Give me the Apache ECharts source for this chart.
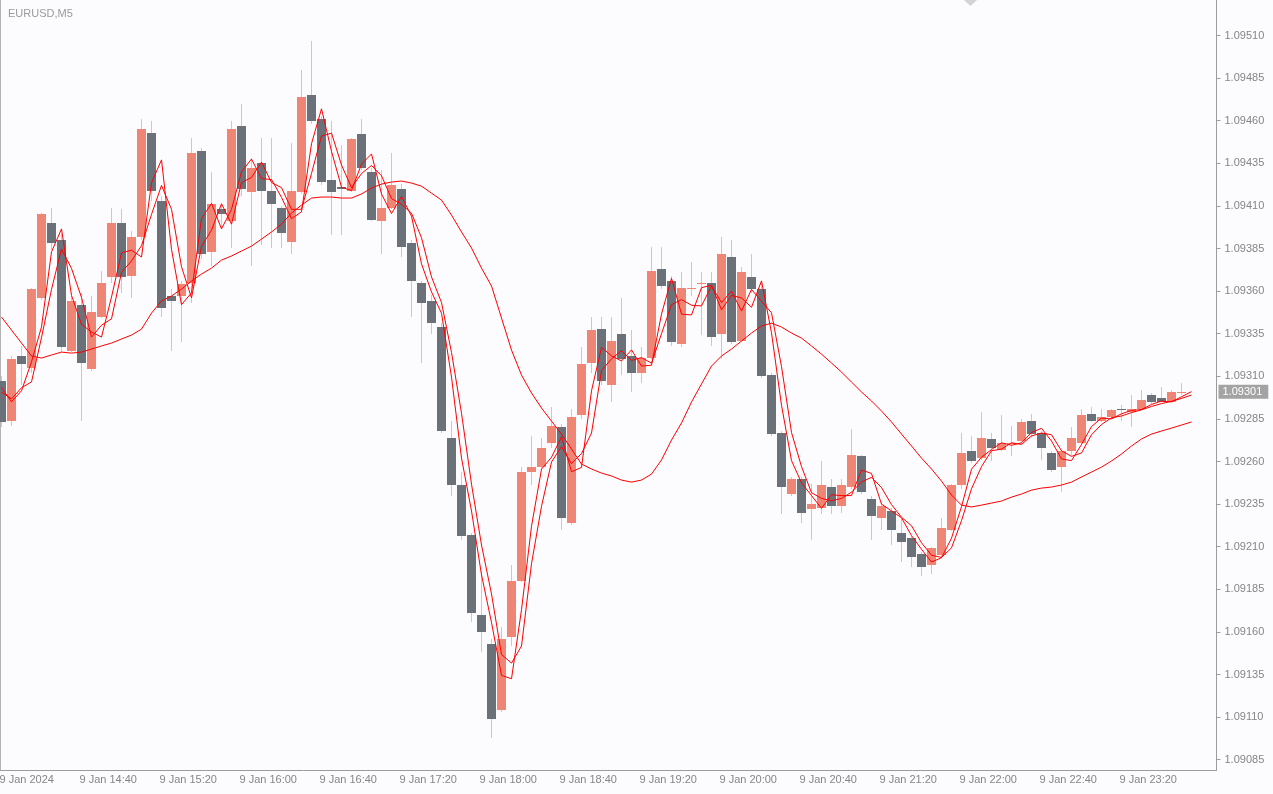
<!DOCTYPE html>
<html><head><meta charset="utf-8">
<script src="https://cdn.jsdelivr.net/npm/echarts@6/dist/echarts.min.js"></script>
<style>html,body{margin:0;padding:0;background:#fcfcfe;}#c{width:1273px;height:794px;}</style>
</head><body><div id="c"></div><script>
// ---- data (EURUSD M5, 9 Jan 2024, from 14:00) ----
const open = [1.09307,1.09284,1.09322,1.09315,1.09356,1.09400,1.09390,1.09325,1.09352,1.09314,
1.09345,1.09368,1.09400,1.09369,1.09392,1.09453,1.09413,1.09357,1.09357,1.09365,
1.09442,1.09383,1.09408,1.09401,1.09457,1.09418,1.09435,1.09419,1.09409,1.09389,
1.09418,1.09475,1.09461,1.09425,1.09421,1.09419,1.09452,1.09430,1.09401,1.09409,
1.09420,1.09388,1.09365,1.09354,1.09339,1.09274,1.09246,1.09217,1.09170,1.09153,
1.09114,1.09157,1.09190,1.09254,1.09257,1.09271,1.09280,1.09224,1.09287,1.09318,
1.09338,1.09305,1.09335,1.09322,1.09312,1.09321,1.09373,1.09366,1.09329,1.09361,
1.09364,1.09365,1.09335,1.09380,1.09331,1.09368,1.09361,1.09311,1.09277,1.09241,
1.09250,1.09232,1.09233,1.09245,1.09234,1.09245,1.09263,1.09238,1.09227,1.09231,
1.09218,1.09215,1.09206,1.09199,1.09205,1.09220,1.09246,1.09266,1.09262,1.09273,
1.09267,1.09270,1.09272,1.09284,1.09277,1.09265,1.09257,1.09266,1.09271,1.09288,
1.09284,1.09286,1.09291,1.09289,1.09291,1.09299,1.09297,1.09295,1.09300];
const high = [1.09310,1.09322,1.09328,1.09362,1.09406,1.09409,1.09394,1.09357,1.09359,1.09357,
1.09372,1.09409,1.09408,1.09395,1.09461,1.09460,1.09416,1.09361,1.09366,1.09450,
1.09444,1.09430,1.09411,1.09460,1.09470,1.09438,1.09450,1.09450,1.09410,1.09447,
1.09490,1.09507,1.09463,1.09460,1.09446,1.09450,1.09461,1.09432,1.09431,1.09441,
1.09423,1.09390,1.09366,1.09358,1.09341,1.09284,1.09254,1.09218,1.09196,1.09156,
1.09163,1.09199,1.09257,1.09275,1.09274,1.09292,1.09282,1.09291,1.09327,1.09345,
1.09345,1.09345,1.09356,1.09337,1.09327,1.09386,1.09386,1.09369,1.09371,1.09377,
1.09371,1.09371,1.09392,1.09390,1.09374,1.09382,1.09365,1.09312,1.09278,1.09251,
1.09251,1.09247,1.09260,1.09250,1.09250,1.09279,1.09264,1.09240,1.09236,1.09233,
1.09226,1.09216,1.09207,1.09210,1.09227,1.09247,1.09277,1.09275,1.09289,1.09277,
1.09287,1.09281,1.09285,1.09288,1.09278,1.09266,1.09267,1.09280,1.09291,1.09292,
1.09291,1.09291,1.09293,1.09299,1.09302,1.09300,1.09304,1.09302,1.09306];
const low = [1.09280,1.09281,1.09305,1.09312,1.09355,1.09384,1.09324,1.09324,1.09284,1.09313,
1.09344,1.09365,1.09359,1.09356,1.09390,1.09413,1.09345,1.09325,1.09330,1.09353,
1.09379,1.09375,1.09397,1.09385,1.09416,1.09375,1.09387,1.09385,1.09385,1.09382,
1.09417,1.09458,1.09422,1.09393,1.09393,1.09418,1.09431,1.09401,1.09382,1.09408,
1.09380,1.09345,1.09318,1.09335,1.09277,1.09240,1.09214,1.09166,1.09148,1.09098,
1.09113,1.09152,1.09189,1.09246,1.09255,1.09268,1.09220,1.09223,1.09285,1.09312,
1.09305,1.09295,1.09311,1.09301,1.09306,1.09320,1.09361,1.09328,1.09327,1.09357,
1.09334,1.09328,1.09320,1.09329,1.09330,1.09359,1.09309,1.09275,1.09229,1.09240,
1.09224,1.09214,1.09229,1.09229,1.09230,1.09244,1.09241,1.09214,1.09220,1.09211,
1.09201,1.09198,1.09193,1.09194,1.09204,1.09219,1.09244,1.09259,1.09261,1.09260,
1.09266,1.09263,1.09271,1.09274,1.09261,1.09254,1.09242,1.09264,1.09270,1.09283,
1.09283,1.09285,1.09284,1.09280,1.09290,1.09294,1.09295,1.09295,1.09299];
const close = [1.09283,1.09320,1.09317,1.09361,1.09405,1.09388,1.09327,1.09354,1.09318,1.09348,
1.09365,1.09400,1.09368,1.09392,1.09455,1.09419,1.09350,1.09354,1.09364,1.09441,
1.09382,1.09411,1.09405,1.09455,1.09420,1.09432,1.09419,1.09411,1.09394,1.09419,
1.09474,1.09460,1.09424,1.09418,1.09420,1.09449,1.09432,1.09402,1.09409,1.09422,
1.09386,1.09366,1.09353,1.09341,1.09278,1.09246,1.09216,1.09171,1.09160,1.09109,
1.09156,1.09190,1.09254,1.09257,1.09268,1.09281,1.09227,1.09286,1.09317,1.09337,
1.09307,1.09331,1.09320,1.09312,1.09321,1.09372,1.09363,1.09330,1.09362,1.09362,
1.09365,1.09333,1.09382,1.09330,1.09371,1.09361,1.09310,1.09276,1.09245,1.09250,
1.09230,1.09235,1.09246,1.09234,1.09246,1.09264,1.09242,1.09228,1.09234,1.09220,
1.09213,1.09204,1.09198,1.09209,1.09221,1.09246,1.09265,1.09260,1.09274,1.09268,
1.09271,1.09271,1.09283,1.09276,1.09268,1.09255,1.09266,1.09274,1.09287,1.09284,
1.09286,1.09290,1.09290,1.09291,1.09296,1.09295,1.09295,1.09301,1.09301];
const maFast = [1.093035,1.09295,1.093015,1.093185,1.09339,1.09383,1.093965,1.093575,1.093405,1.09336,
1.09333,1.093565,1.093825,1.09384,1.0938,1.094235,1.09437,1.093845,1.09352,1.09359,
1.094025,1.094115,1.093965,1.09408,1.0943,1.094375,1.09426,1.094255,1.09415,1.094025,
1.094065,1.094465,1.09467,1.09442,1.09421,1.09419,1.094345,1.094405,1.09417,1.094055,
1.094155,1.09404,1.09376,1.093595,1.09347,1.093095,1.09262,1.09231,1.091935,1.091655,
1.091345,1.091325,1.09173,1.09222,1.092555,1.092625,1.092745,1.09254,1.092565,1.093015,
1.09327,1.09322,1.09319,1.093255,1.09316,1.093165,1.093465,1.093675,1.093465,1.09346,
1.09362,1.093635,1.09349,1.093575,1.09356,1.093505,1.09366,1.093355,1.09293,1.092605,
1.092475,1.0924,1.092325,1.092405,1.0924,1.0924,1.09255,1.09253,1.09235,1.09231,
1.09227,1.092165,1.092085,1.09201,1.092035,1.09215,1.092335,1.092555,1.092625,1.09267,
1.09271,1.092695,1.09271,1.09277,1.092795,1.09272,1.092615,1.092605,1.0927,1.092805,
1.092855,1.09285,1.09288,1.0929,1.092905,1.092935,1.092955,1.09295,1.09298,1.09301];
const maMid = [1.093007,1.092967,1.093033,1.093067,1.093327,1.09361,1.093847,1.093733,1.093563,1.09333,
1.0934,1.093437,1.09371,1.093777,1.093867,1.09405,1.09422,1.09408,1.093743,1.09356,
1.093863,1.093957,1.094113,1.093993,1.094237,1.094267,1.094357,1.094237,1.094207,1.09408,
1.09408,1.09429,1.09451,1.094527,1.09434,1.094207,1.09429,1.094337,1.094277,1.094143,
1.09411,1.094057,1.093913,1.093683,1.093533,1.09324,1.092883,1.092467,1.09211,1.091823,
1.091467,1.091417,1.091517,1.092,1.092337,1.092597,1.092687,1.092587,1.092647,1.092767,
1.093133,1.093203,1.09325,1.093193,1.09321,1.093177,1.09335,1.09352,1.09355,1.093517,
1.093513,1.09363,1.093533,1.0936,1.093483,1.09361,1.09354,1.093473,1.093157,1.09277,
1.09257,1.092417,1.092383,1.09237,1.092383,1.09242,1.09248,1.092507,1.092447,1.092347,
1.092273,1.092223,1.092123,1.09205,1.092037,1.092093,1.092253,1.09244,1.09257,1.092663,
1.092673,1.09271,1.0927,1.09275,1.092767,1.092757,1.092663,1.09263,1.09265,1.092757,
1.092817,1.092857,1.092867,1.092887,1.092903,1.092923,1.09294,1.092953,1.09297,1.09299];
const maSlow = [1.093448,1.093371,1.093295,1.093219,1.093207,1.093225,1.093242,1.093236,1.093242,1.09326,
1.093278,1.093295,1.093319,1.093342,1.093377,1.093471,1.093542,1.093571,1.093612,1.093659,
1.0937,1.093735,1.093782,1.093806,1.093835,1.093864,1.093905,1.093947,1.093993,1.094058,
1.094105,1.094146,1.094152,1.094152,1.094146,1.094146,1.09417,1.094205,1.094228,1.09424,
1.094246,1.094234,1.094216,1.094175,1.094134,1.094046,1.093947,1.093853,1.093735,1.09363,
1.093442,1.093254,1.093107,1.093002,1.092914,1.092837,1.092761,1.092673,1.092585,1.092556,
1.092532,1.092515,1.092491,1.092479,1.092491,1.092526,1.092609,1.092726,1.092826,1.092949,
1.093055,1.09316,1.093219,1.09326,1.093307,1.093354,1.093395,1.093412,1.093389,1.093354,
1.093324,1.093278,1.09323,1.093178,1.093125,1.093066,1.093008,1.092955,1.092896,1.092832,
1.092761,1.092691,1.09262,1.092556,1.092485,1.092403,1.092344,1.092333,1.092344,1.092356,
1.092368,1.092391,1.092409,1.092432,1.092444,1.09245,1.092462,1.092479,1.092509,1.092538,
1.092567,1.092603,1.092644,1.092691,1.092732,1.092761,1.092779,1.092796,1.092814,1.092832];
const xTickLabels = ['9 Jan 2024','9 Jan 14:40','9 Jan 15:20','9 Jan 16:00','9 Jan 16:40','9 Jan 17:20','9 Jan 18:00','9 Jan 18:40','9 Jan 19:20','9 Jan 20:00','9 Jan 20:40','9 Jan 21:20','9 Jan 22:00','9 Jan 22:40','9 Jan 23:20'];
const yTicks = [1.09085,1.09110,1.09135,1.09160,1.09185,1.09210,1.09235,1.09260,1.09285,1.09310,1.09335,1.09360,1.09385,1.09410,1.09435,1.09460,1.09485,1.09510];
const lastPrice = 1.09301;
const symbolTitle = 'EURUSD,M5';

// ---- build ----
const slots = 122;
const categories = [];
for (let k = 0; k < slots; k++) {
  const m = 14 * 60 + 5 * k;
  const hh = Math.floor(m / 60) % 24, mm = m % 60;
  categories.push('9 Jan ' + hh + ':' + (mm < 10 ? '0' : '') + mm);
}
const candleData = open.map((o, i) => [i, o, high[i], low[i], close[i]]);
const isTick = (idx) => idx % 8 === 0 && idx / 8 < xTickLabels.length;

const bullColor = '#ef8575', bearColor = '#6b7179', wickColor = '#c6c9d2';
const font = "'Liberation Sans', Arial, sans-serif";
const axisGray = '#9c9c9c', labelGray = '#858585';
const yMin = 1.09078955, yMax = 1.09530833;

const chart = echarts.init(document.getElementById('c'), null, {renderer: 'canvas'});
chart.setOption({
  animation: false,
  backgroundColor: '#fcfcfe',
  textStyle: {fontFamily: font},
  title: {text: symbolTitle, left: 3, top: 3, textStyle: {fontSize: 11, fontWeight: 'normal', color: '#9a9a9a', fontFamily: font}},
  grid: {left: -3.5, right: 56.5, top: 0, bottom: 24, outerBoundsMode: 'none', containLabel: false},
  xAxis: {
    type: 'category', data: categories, boundaryGap: true,
    axisLine: {lineStyle: {color: axisGray, width: 1}},
    axisTick: {alignWithLabel: true, length: 4, interval: (idx) => isTick(idx), lineStyle: {color: axisGray}},
    axisLabel: {interval: (idx) => isTick(idx), formatter: (v, idx) => xTickLabels[idx / 8] || '', align: 'left', padding: [0, 0, 0, -2], margin: 4, fontSize: 11, color: labelGray, fontFamily: font},
    splitLine: {show: false}
  },
  yAxis: [{
    type: 'value', position: 'right', min: yMin, max: yMax,
    axisLine: {show: true, lineStyle: {color: axisGray, width: 1}},
    axisTick: {show: true, length: 4, customValues: yTicks, lineStyle: {color: axisGray}},
    axisLabel: {customValues: yTicks, formatter: (v) => v.toFixed(5), margin: 8, fontSize: 11, color: labelGray, fontFamily: font},
    splitLine: {show: false}
  }, {
    type: 'value', position: 'right', min: yMin, max: yMax,
    axisLine: {show: false}, axisTick: {show: false}, splitLine: {show: false},
    axisLabel: {customValues: [lastPrice], formatter: (v) => v.toFixed(5), margin: 2, fontSize: 11, color: '#ffffff', backgroundColor: '#a3a3a3', padding: [2, 6, 1, 4], fontFamily: font}
  }],
  series: [
    {
      type: 'line', name: 'last', data: close.map(() => lastPrice), showSymbol: false, symbol: 'none', z: 1,
      lineStyle: {opacity: 0}, silent: true,
      markLine: {
        silent: true, symbol: 'none', animation: false,
        data: [{yAxis: lastPrice}],
        lineStyle: {color: '#dcdde2', type: 'solid', width: 1},
        label: {show: false}
      }
    },
    {
      type: 'custom', name: 'EURUSD', data: candleData, encode: {x: 0, y: [1, 2, 3, 4]}, z: 2,
      renderItem: function (params, api) {
        const i = api.value(0), o = api.value(1), h = api.value(2), l = api.value(3), c = api.value(4);
        const pO = api.coord([i, o]), pC = api.coord([i, c]), pH = api.coord([i, h]), pL = api.coord([i, l]);
        const cx = Math.round(pO[0] - 0.5) + 0.5;
        const top = Math.round(Math.min(pO[1], pC[1])), bot = Math.round(Math.max(pO[1], pC[1]));
        return {type: 'group', children: [
          {type: 'line', shape: {x1: cx, y1: Math.round(pH[1]), x2: cx, y2: Math.round(pL[1])}, style: {stroke: wickColor, lineWidth: 1}},
          {type: 'rect', shape: {x: cx - 4.5, y: top, width: 9, height: Math.max(1, bot - top)}, style: {fill: c >= o ? bullColor : bearColor}}
        ]};
      }
    },
    {type: 'line', name: 'MA slow', data: maSlow, showSymbol: false, symbol: 'none', z: 3, lineStyle: {color: '#ff0000', width: 1}},
    {type: 'line', name: 'MA mid', data: maMid, showSymbol: false, symbol: 'none', z: 3, lineStyle: {color: '#ff0000', width: 1}},
    {type: 'line', name: 'MA fast', data: maFast, showSymbol: false, symbol: 'none', z: 3, lineStyle: {color: '#ff0000', width: 1}}
  ],
  graphic: [
    {type: 'line', shape: {x1: 0.5, y1: 0, x2: 0.5, y2: 770}, style: {stroke: '#b4b4b4', lineWidth: 1}, silent: true},
    {type: 'polygon', shape: {points: [[964, 0], [977, 0], [970.5, 6]]}, style: {fill: '#d3d4d8'}, silent: true}
  ]
});
</script></body></html>
